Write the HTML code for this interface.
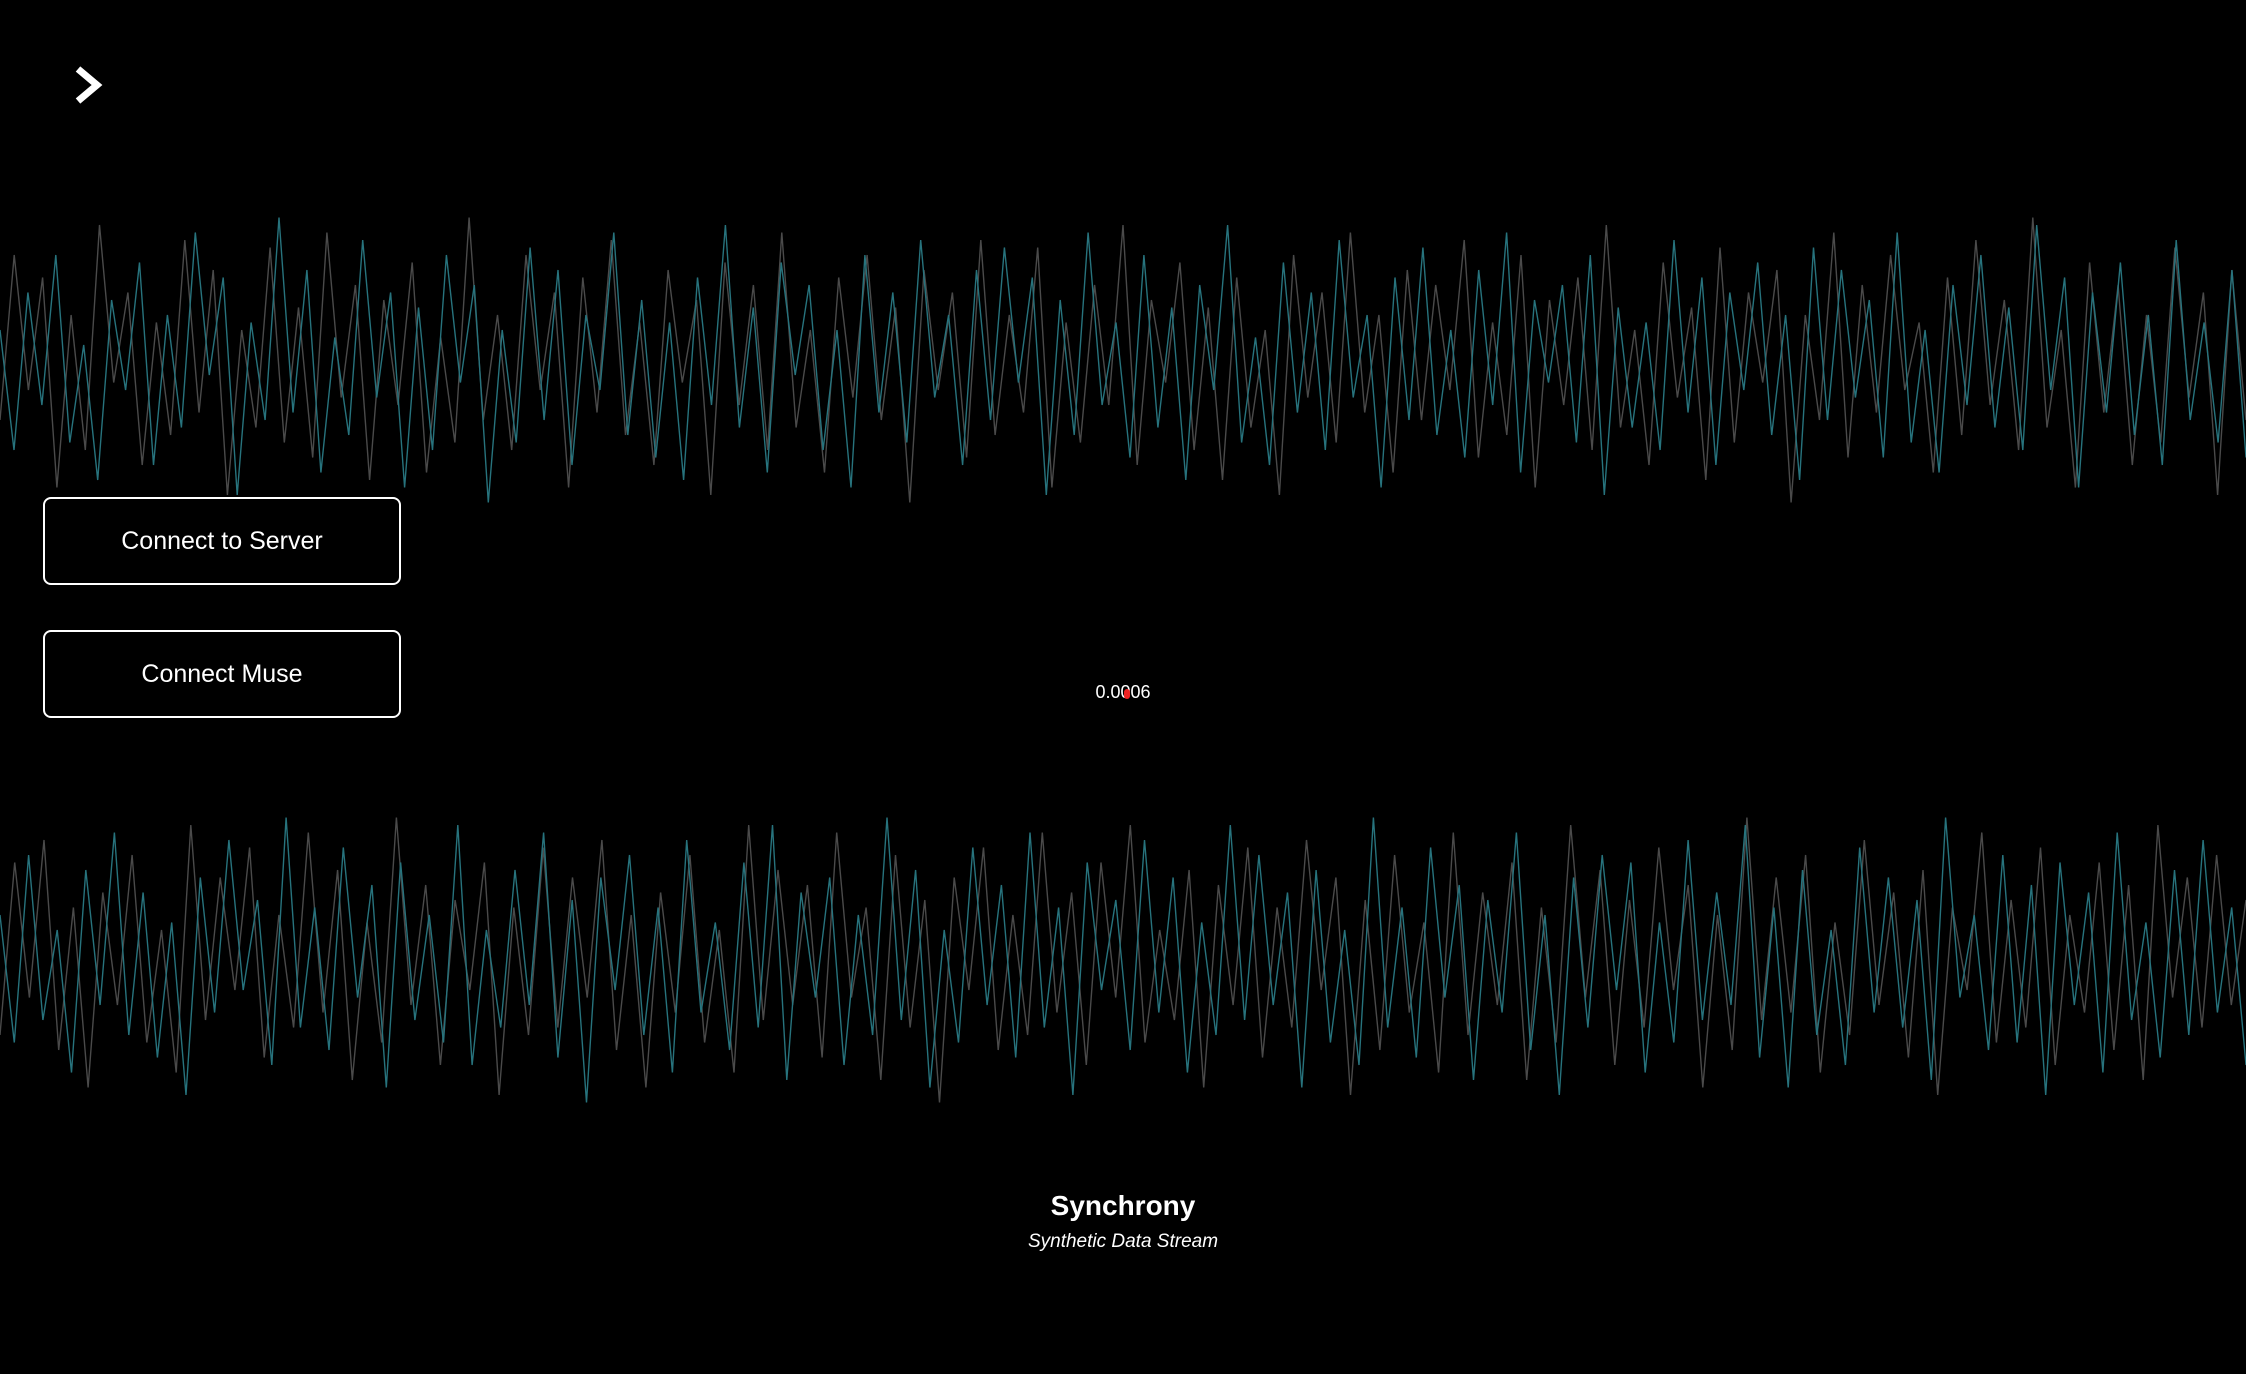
<!DOCTYPE html>
<html><head><meta charset="utf-8">
<style>
html,body{margin:0;padding:0;background:#000;width:2246px;height:1374px;overflow:hidden;font-family:"Liberation Sans",sans-serif;color:#fff}
#chart{position:absolute;left:0;top:0}
.btn{position:absolute;left:43px;width:358px;height:88px;border:2px solid #fff;border-radius:8px;box-sizing:border-box;background:#000;color:#fff;font-size:25px;display:flex;align-items:center;justify-content:center}
.t{position:absolute;left:0;width:2246px;text-align:center}
</style></head><body>
<svg id="chart" width="2246" height="1374"></svg>
<svg style="position:absolute;left:72px;top:64px" width="36" height="42"><polyline points="6,5 25,21 6,37" fill="none" stroke="#fff" stroke-width="7"/></svg>
<div class="btn" style="top:497px">Connect to Server</div>
<div class="btn" style="top:630px">Connect Muse</div>
<div class="t" style="top:682px;font-size:18px">0.0006</div>
<div style="position:absolute;left:1124px;top:689px;width:6px;height:10px;border-radius:3px;background:#e22"></div>
<div class="t" style="top:1190px;font-size:28px;font-weight:bold">Synchrony</div>
<div class="t" style="top:1231px;font-size:19px;font-style:italic">Synthetic Data Stream</div>
<script>
const topTeal=[20,-60,45,-30,70,-55,10,-80,40,-20,65,-70,30,-45,85,-10,55,-90,25,-40,95,-35,60,-75,15,-50,80,-25,45,-85,35,-60,70,-15,50,-95,20,-55,75,-40,60,-70,30,-20,85,-50,40,-65,25,-80,55,-30,90,-45,35,-75,65,-10,50,-60,20,-85,70,-35,45,-55,80,-25,30,-70,60,-40,75,-15,55,-90,40,-50,85,-30,25,-65,70,-45,35,-80,50,-20,90,-55,15,-70,65,-35,45,-60,80,-25,30,-85,55,-40,75,-50,20,-65,60,-30,85,-75,40,-15,50,-55,70,-90,35,-45,25,-60,80,-35,55,-70,45,-20,65,-50,30,-80,75,-40,60,-25,40,-65,85,-55,20,-75,50,-30,70,-45,35,-60,90,-20,55,-85,45,-35,65,-50,30,-70,80,-40,25,-55,60,-65];
const topGray=[-40,70,-20,55,-85,30,-60,90,-15,45,-70,25,-50,80,-35,60,-90,20,-45,75,-55,35,-65,85,-25,50,-80,40,-30,65,-75,15,-55,95,-40,30,-60,70,-20,45,-85,55,-35,80,-50,25,-70,60,-15,40,-90,65,-30,50,-60,85,-45,20,-75,55,-25,70,-40,35,-95,60,-20,45,-65,80,-50,30,-35,75,-85,25,-55,50,-30,90,-70,40,-15,65,-60,35,-80,55,-45,20,-90,70,-25,45,-55,85,-35,30,-75,60,-40,50,-20,80,-65,25,-50,70,-85,40,-30,55,-60,90,-45,20,-70,65,-25,35,-80,75,-55,45,-15,60,-95,30,-40,85,-65,50,-35,70,-20,25,-75,55,-50,80,-30,40,-60,95,-45,20,-85,65,-35,50,-70,30,-55,75,-25,45,-90,60,-40];
const botTeal=[30,-55,70,-40,20,-75,60,-30,85,-50,45,-65,25,-90,55,-35,80,-20,40,-70,95,-45,35,-60,75,-25,50,-85,65,-40,30,-55,90,-70,20,-45,60,-30,85,-65,40,-95,55,-20,70,-50,35,-75,80,-35,25,-60,65,-45,90,-80,45,-25,55,-70,30,-50,95,-40,60,-85,20,-55,75,-30,50,-65,85,-45,35,-90,65,-20,40,-60,80,-35,55,-75,25,-50,90,-40,70,-30,45,-85,60,-55,20,-70,95,-45,35,-65,75,-25,50,-80,40,-35,85,-60,30,-90,55,-45,70,-20,65,-75,25,-55,80,-40,45,-30,90,-65,35,-85,60,-50,20,-70,75,-35,55,-45,40,-80,95,-25,30,-60,70,-55,50,-90,65,-30,45,-75,85,-40,25,-65,60,-50,80,-35,35,-70];
const botGray=[-50,65,-25,80,-60,35,-85,45,-30,70,-55,20,-75,90,-40,55,-20,75,-65,30,-45,85,-35,60,-80,25,-55,95,-30,50,-70,40,-20,65,-90,35,-50,75,-45,55,-25,80,-60,30,-85,45,-35,70,-55,20,-75,90,-40,60,-30,50,-65,85,-25,35,-80,70,-45,40,-95,55,-20,75,-60,30,-50,85,-35,45,-70,65,-25,90,-55,20,-40,60,-85,50,-30,75,-65,35,-45,80,-20,55,-90,40,-60,70,-35,25,-75,85,-50,45,-30,65,-80,35,-55,90,-25,60,-70,40,-45,75,-20,50,-85,30,-60,95,-40,55,-35,70,-75,25,-50,80,-30,45,-65,60,-90,35,-20,85,-55,40,-45,75,-70,30,-35,65,-60,50,-80,90,-25,55,-45,70,-30,40];
const svg=document.getElementById('chart');
const NS='http://www.w3.org/2000/svg';
function xScale(i,n){return i*2246/(n-1);}
function yScale(v,center,amp){return center-v/100*amp;}
function drawSeries(arr,center,amp,color,name){
  const p=document.createElementNS(NS,'polyline');
  p.setAttribute('points',arr.map((v,i)=>xScale(i,arr.length).toFixed(1)+','+yScale(v,center,amp).toFixed(1)).join(' '));
  p.setAttribute('fill','none');p.setAttribute('stroke',color);p.setAttribute('stroke-width','1.4');
  
  
  svg.appendChild(p);
}
drawSeries(topGray,360,150,'#4a4a4a','top-gray-series');
drawSeries(topTeal,360,150,'#27737d','top-teal-series');
drawSeries(botGray,960,150,'#4a4a4a','bottom-gray-series');
drawSeries(botTeal,960,150,'#27737d','bottom-teal-series');
</script>
</body></html>
